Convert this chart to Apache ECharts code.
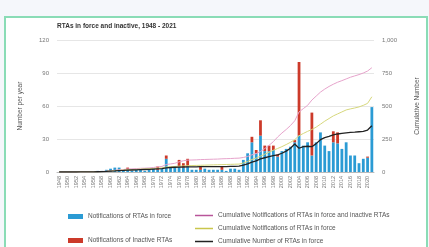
<!DOCTYPE html>
<html>
<head>
<meta charset="utf-8">
<script src="https://cdn.jsdelivr.net/npm/echarts@6/dist/echarts.min.js"></script>
<style>
  html, body { margin: 0; padding: 0; background: #f5f7fb; }
  .panel {
    position: absolute; left: 4px; top: 16px; width: 420px; height: 240px;
    background: #fff; border: 2px solid #8adcb6;
  }
  #main { position: absolute; left: 0; top: 0; width: 429px; height: 247px; }
</style>
</head>
<body>
<div class="panel"></div>
<div id="main"></div>
<script>
const years = [
  '1948','1949','1950','1951','1952','1953','1954','1955','1956','1957',
  '1958','1959','1960','1961','1962','1963','1964','1965','1966','1967',
  '1968','1969','1970','1971','1972','1973','1974','1975','1976','1977',
  '1978','1979','1980','1981','1982','1983','1984','1985','1986','1987',
  '1988','1989','1990','1991','1992','1993','1994','1995','1996','1997',
  '1998','1999','2000','2001','2002','2003','2004','2005','2006','2007',
  '2008','2009','2010','2011','2012','2013','2014','2015','2016','2017',
  '2018','2019','2020','2021'
];

// notifications per year (left axis)
const inForce = [
  0, 0, 0, 0, 0, 0, 0, 0, 0, 1,
  1, 2, 3, 4, 4, 2, 2, 1, 2, 2,
  1, 2, 3, 2, 3, 12, 4, 5, 5, 4,
  5, 2, 2, 2, 3, 2, 2, 2, 2, 1,
  3, 3, 2, 11, 17, 27, 17, 33, 19, 19,
  20, 14, 19, 21, 23, 27, 33, 24, 27, 15,
  27, 36, 24, 19, 27, 26, 21, 27, 15, 15,
  8, 12, 13, 59
];
const inactive = [
  0, 0, 0, 0, 0, 0, 0, 0, 0, 0,
  0, 0, 0, 0, 0, 0, 2, 0, 0, 0,
  0, 0, 0, 3, 0, 3, 0, 0, 6, 4,
  7, 0, 0, 3, 0, 0, 0, 0, 3, 0,
  0, 0, 0, 0, 0, 5, 3, 14, 5, 5,
  4, 2, 0, 0, 0, 2, 67, 0, 0, 39,
  0, 0, 0, 0, 10, 10, 0, 0, 0, 0,
  0, 0, 1, 0
];

// cumulative (right axis)
const cumAll = [
  0, 0, 0, 0, 0, 1, 1, 1, 2, 3,
  4, 6, 9, 13, 17, 19, 23, 24, 26, 28,
  29, 31, 34, 39, 42, 57, 61, 66, 77, 85,
  90, 91, 92, 94, 95, 96, 97, 98, 100, 101,
  102, 104, 105, 110, 118, 130, 140, 155, 178, 202,
  230, 265, 295, 322, 352, 388, 455, 480, 505, 545,
  575, 605, 628, 648, 665, 680, 692, 705, 718, 728,
  738, 750, 765, 790
];
const cumInForce = [
  0, 0, 0, 0, 0, 1, 1, 1, 1, 2,
  3, 5, 7, 10, 13, 15, 17, 18, 20, 22,
  23, 25, 27, 29, 31, 38, 40, 42, 44, 46,
  48, 49, 50, 51, 52, 53, 54, 55, 56, 57,
  58, 59, 60, 68, 80, 95, 105, 120, 135, 150,
  165, 178, 192, 208, 225, 245, 275, 292, 308, 322,
  340, 362, 385, 405, 425, 440, 455, 470, 478, 485,
  493, 505, 520, 570
];
const numInForce = [
  0, 0, 0, 0, 0, 1, 1, 1, 1, 2,
  3, 4, 6, 8, 11, 12, 14, 15, 16, 18,
  19, 20, 22, 24, 26, 32, 34, 36, 37, 38,
  39, 39, 39, 40, 40, 40, 40, 41, 41, 41,
  42, 43, 44, 52, 62, 75, 84, 100, 108, 116,
  124, 130, 142, 158, 180, 212, 180, 192, 195, 192,
  215, 245, 260, 270, 282, 288, 293, 297, 300, 302,
  305, 308, 318, 350
];

const chart = echarts.init(document.getElementById('main'));
const txt = '#555';
const legText = { fontSize: 6.5, color: txt };

function legendBox(name, left, top, h, w) {
  return {
    data: [name], left: left, top: top, padding: 0, icon: 'rect',
    itemWidth: w, itemHeight: h, textStyle: legText
  };
}

chart.setOption({
  animation: false,
  title: {
    text: 'RTAs in force and inactive, 1948 - 2021',
    left: 57, top: 23, padding: 0,
    textStyle: { fontSize: 6.5, fontWeight: 'bold', color: '#333' }
  },
  grid: { left: 57, right: 51, top: 40, bottom: 75 },
  legend: [
    legendBox('Notifications of RTAs in force', 68, 213, 5, 15),
    legendBox('Notifications of Inactive RTAs', 68, 237, 5, 15),
    legendBox('Cumulative Notifications of RTAs in force and inactive RTAs', 195, 212, 1.5, 18),
    legendBox('Cumulative Notifications of RTAs in force', 195, 225, 1.5, 18),
    legendBox('Cumulative Number of RTAs in force', 195, 238, 1.5, 18)
  ],
  xAxis: {
    type: 'category',
    data: years,
    axisTick: { show: false },
    axisLine: { lineStyle: { color: '#bbb' } },
    axisLabel: { rotate: 90, interval: 1, fontSize: 5.5, color: '#777', margin: 4 }
  },
  yAxis: [
    {
      type: 'value', min: 0, max: 120, interval: 30,
      name: 'Number per year', nameLocation: 'middle', nameGap: 33,
      nameTextStyle: { fontSize: 6.5, color: txt },
      axisLabel: { fontSize: 6, color: '#777', margin: 8 },
      splitLine: { lineStyle: { color: '#e6e6e6' } }
    },
    {
      type: 'value', min: 0, max: 1000, interval: 250,
      name: 'Cumulative Number', nameLocation: 'middle', nameGap: 40,
      nameTextStyle: { fontSize: 6.5, color: txt },
      axisLabel: {
        fontSize: 6, color: '#777', margin: 8,
        formatter: v => v.toLocaleString('en-US')
      },
      splitLine: { show: false }
    }
  ],
  series: [
    {
      name: 'Notifications of RTAs in force', type: 'bar', stack: 'n',
      data: inForce, barCategoryGap: '35%',
      itemStyle: { color: '#2b9bd4' }
    },
    {
      name: 'Notifications of Inactive RTAs', type: 'bar', stack: 'n',
      data: inactive,
      itemStyle: { color: '#cc3a2a' }
    },
    {
      name: 'Cumulative Notifications of RTAs in force and inactive RTAs',
      type: 'line', yAxisIndex: 1, data: cumAll, symbol: 'none',
      itemStyle: { color: '#b8559a' },
      lineStyle: { color: '#e6a3cb', width: 1 }
    },
    {
      name: 'Cumulative Notifications of RTAs in force',
      type: 'line', yAxisIndex: 1, data: cumInForce, symbol: 'none',
      itemStyle: { color: '#c9c64c' },
      lineStyle: { color: '#d6d77c', width: 1 }
    },
    {
      name: 'Cumulative Number of RTAs in force',
      type: 'line', yAxisIndex: 1, data: numInForce, symbol: 'none',
      itemStyle: { color: '#222' },
      lineStyle: { color: '#222', width: 1.3 }
    }
  ]
});
</script>
</body>
</html>
